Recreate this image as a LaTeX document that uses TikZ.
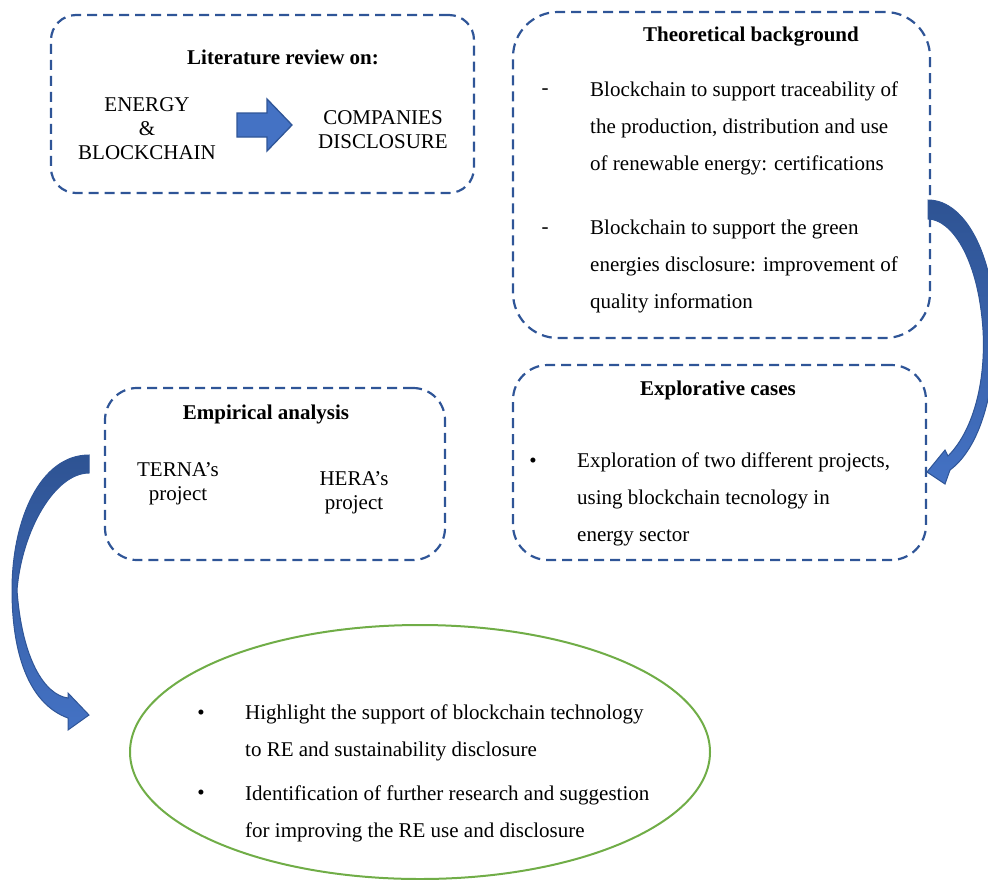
\documentclass[tikz,border=0pt]{standalone}
\usepackage{fontspec}
\setmainfont{Liberation Serif}
\usetikzlibrary{shapes.geometric}
\definecolor{boxblue}{HTML}{2F5597}
\definecolor{arrowfill}{HTML}{4472C4}
\definecolor{arrowdark}{HTML}{2E5393}
\definecolor{ellgreen}{HTML}{70AD47}
\begin{document}
\begin{tikzpicture}[x=1pt,y=-1pt,
  box/.style={draw=boxblue, line width=2.2pt, dash pattern=on 10pt off 6pt, inner sep=0pt},
  txt/.style={font=\fontsize{21}{24}\selectfont, inner sep=0pt},
  para/.style={font=\fontsize{21}{37}\selectfont, inner sep=0pt, align=left},
  ctr/.style={font=\fontsize{21}{24}\selectfont, inner sep=0pt, align=center},
  title/.style={font=\fontsize{21}{24}\selectfont\bfseries, inner sep=0pt},
  blockarrow/.style={fill=arrowfill, draw=boxblue, line width=1.3pt, line join=miter},
  curvearrow/.style={top color=arrowdark, bottom color=arrowfill, draw=boxblue, line width=1pt, line join=miter}
]
\useasboundingbox (0,0) rectangle (988,879);

% boxes
\node[box, rounded corners=25pt, minimum width=423pt, minimum height=178pt] (lit) at (262.5,104) {};
\node[box, rounded corners=45pt, minimum width=417pt, minimum height=326pt] (theo) at (721.5,175) {};
\node[box, rounded corners=35pt, minimum width=413pt, minimum height=195pt] (expl) at (719.5,462.5) {};
\node[box, rounded corners=32pt, minimum width=340pt, minimum height=172pt] (emp) at (275,474) {};
\node[draw=ellgreen, line width=2pt, ellipse, minimum width=580pt, minimum height=254pt, inner sep=0pt] (res) at (420,752) {};

% literature review
\node[title] (littitle) at (283,57) {Literature review on:};
\node[ctr] (energy) at (147,128.5) {ENERGY\\\&\\BLOCKCHAIN};
\node[ctr] (companies) at (383,130) {COMPANIES\\DISCLOSURE};
\draw[blockarrow] (237,113) -- (267,113) -- (267,99) -- (292,125) -- (267,151) -- (267,137) -- (237,137) -- cycle;

% theoretical background
\node[title] (theotitle) at (751,37) {Theoretical background};
\node[txt] (dash1) at (545,92) {-};
\node[para, anchor=west] (theo1) at (590,128) {Blockchain to support traceability of\\the production, distribution and use\\of renewable energy: certifications};
\node[txt] (dash2) at (545,231) {-};
\node[para, anchor=west] (theo2) at (590,266) {Blockchain to support the green\\energies disclosure: improvement of\\quality information};

% explorative cases
\node[title] (exptitle) at (718,390) {Explorative cases};
\node[txt] (bul1) at (533,463) {•};
\node[para, anchor=west] (exp) at (577,499.5) {Exploration of two different projects,\\using blockchain tecnology in\\energy sector};

% empirical analysis
\node[title] (emptitle) at (266,414) {Empirical analysis};
\node[ctr] (terna) at (178,484) {TERNA’s\\project};
\node[ctr] (hera) at (354,492.5) {HERA’s\\project};

% results
\node[txt] (bul2) at (201,715) {•};
\node[para, anchor=west] (res1) at (245,732.5) {Highlight the support of blockchain technology\\to RE and sustainability disclosure};
\node[txt] (bul3) at (201,795) {•};
\node[para, anchor=west] (res2) at (245,813.5) {Identification of further research and suggestion\\for improving the RE use and disclosure};

% curved arrows
\draw[curvearrow] (928,200) .. controls (967,200) and (995,260) .. (995,330)
  .. controls (995,400) and (977,450) .. (950,470) -- (945,484) -- (927,472) -- (945,450) -- (948,456)
  .. controls (972,432) and (986,385) .. (983,330)
  .. controls (978,255) and (950,219) .. (928,219) -- cycle;
\draw[curvearrow] (89,455) .. controls (40,455) and (12,520) .. (12,590)
  .. controls (12,660) and (32,705) .. (68,718) -- (68,730) -- (89,715) -- (68,693) -- (68,698)
  .. controls (45,695) and (22,660) .. (17,590)
  .. controls (22,530) and (55,473) .. (89,473) -- cycle;
\end{tikzpicture}
\end{document}
